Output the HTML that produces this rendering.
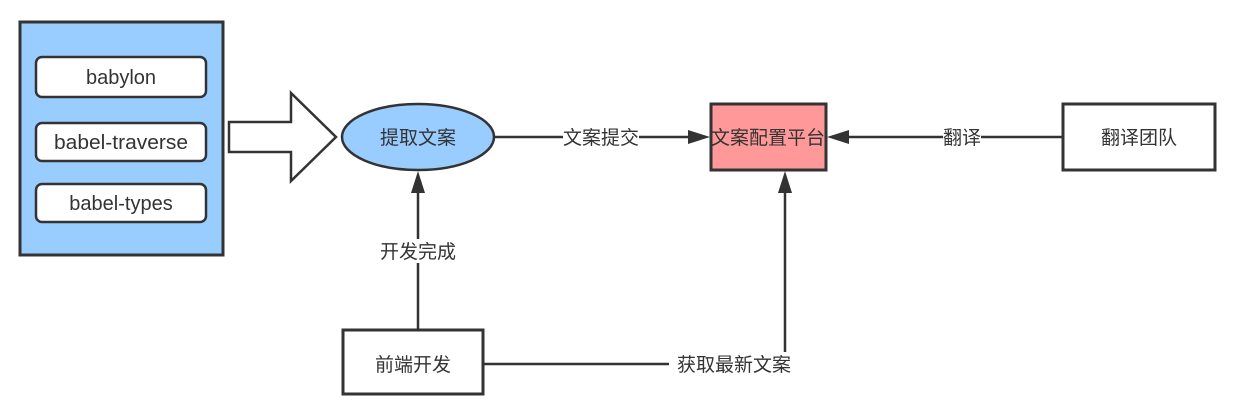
<!DOCTYPE html>
<html><head><meta charset="utf-8"><style>
html,body{margin:0;padding:0;background:#fff;}
svg text{font-family:"Liberation Sans","Noto Sans CJK SC",sans-serif;fill:#333;}
</style></head><body>
<svg width="1240" height="413" viewBox="0 0 1240 413" xmlns="http://www.w3.org/2000/svg">
<g stroke="#333" stroke-width="3">
<rect x="20" y="22" width="203" height="233" fill="#99ccff"/>
<rect x="36" y="57" width="170" height="40" rx="6" fill="#fff" stroke-width="2.5"/>
<rect x="36" y="123" width="170" height="38" rx="6" fill="#fff" stroke-width="2.5"/>
<rect x="36" y="184" width="170" height="38" rx="6" fill="#fff" stroke-width="2.5"/>
<path d="M229,122 H291 V93 L336,137 L291,181 V152 H229 Z" fill="#fff" stroke-width="2.5"/>
<ellipse cx="418" cy="137" rx="76" ry="33" fill="#99ccff" stroke-width="2.5"/>
<rect x="711" y="104" width="115" height="66" fill="#ff9999"/>
<rect x="1063" y="104" width="152" height="66" fill="#fff"/>
<rect x="343" y="330" width="140" height="64" fill="#fff"/>
</g>
<g stroke="#333" stroke-width="2.5" fill="none">
<line x1="495" y1="137" x2="690" y2="137"/>
<line x1="1063" y1="137" x2="846" y2="137"/>
<line x1="418" y1="330" x2="418" y2="190"/>
<polyline points="483,364 785,364 785,190"/>
</g>
<g fill="#333">
<path d="M710,137 L688,130 L688,144 Z"/>
<path d="M827,137 L849,130 L849,144 Z"/>
<path d="M418,171 L411,193 L425,193 Z"/>
<path d="M785,171 L778,193 L792,193 Z"/>
</g>
<g fill="#fff">
<rect x="563" y="125" width="76" height="24"/>
<rect x="943" y="125" width="38" height="24"/>
<rect x="380" y="239" width="76" height="24"/>
<rect x="669" y="352" width="130" height="24"/>
</g>
<g font-size="20" text-anchor="middle">
<text x="121" y="84">babylon</text>
<text x="121" y="149" textLength="134" lengthAdjust="spacingAndGlyphs">babel-traverse</text>
<text x="121" y="210">babel-types</text>
</g>
<g font-size="19" text-anchor="middle">
<text x="418" y="144">提取文案</text>
<text x="768" y="144">文案配置平台</text>
<text x="1139" y="144">翻译团队</text>
<text x="413" y="371">前端开发</text>
<text x="601" y="144">文案提交</text>
<text x="962" y="144">翻译</text>
<text x="418" y="258">开发完成</text>
<text x="734" y="371">获取最新文案</text>
</g>
</svg>
</body></html>
